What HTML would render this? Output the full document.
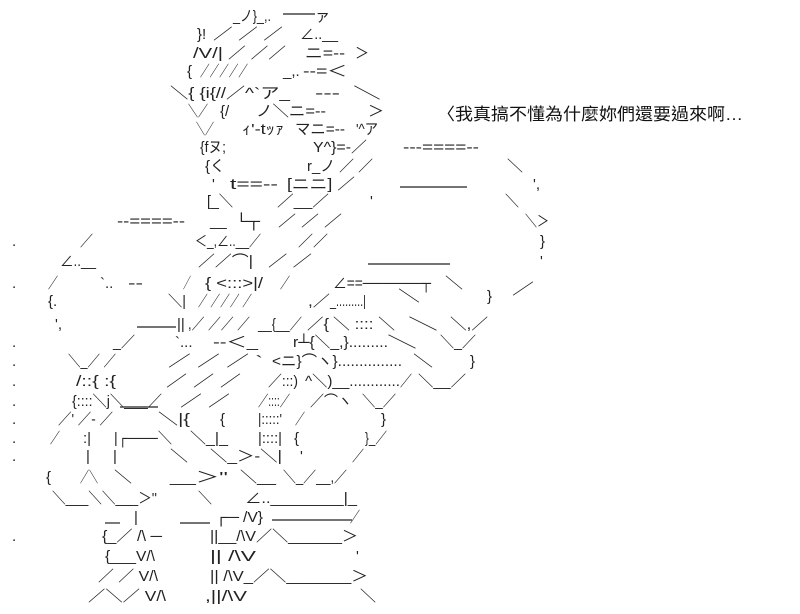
<!DOCTYPE html>
<html><head><meta charset="utf-8"><style>
html,body{margin:0;padding:0;background:#fff;}
svg{display:block}
text{font-family:"Liberation Sans","Noto Sans CJK JP",sans-serif;font-size:15px;fill:#222;}
.c{font-family:"Liberation Sans","Noto Sans CJK TC",sans-serif;font-size:17px;fill:#111;}
line{stroke:#222;stroke-width:1.2}
</style></head><body>
<svg width="800" height="614" viewBox="0 0 800 614" xmlns="http://www.w3.org/2000/svg">
<g>
<!-- row0 -->
<text x="233" y="21" textLength="38" lengthAdjust="spacingAndGlyphs">_ノ}_,.</text>
<line x1="283" y1="14" x2="315" y2="14"/><text x="315" y="21">ァ</text>
<!-- row1 -->
<text x="197" y="39">}!</text>
<text x="213" y="39" textLength="70" lengthAdjust="spacingAndGlyphs">／ ／ ／</text>
<text x="300" y="39" textLength="38" lengthAdjust="spacingAndGlyphs">∠..__</text>
<!-- row2 -->
<text x="193" y="58" textLength="30" lengthAdjust="spacingAndGlyphs">/V/|</text>
<text x="228" y="58" textLength="58" lengthAdjust="spacingAndGlyphs">／ ／／</text>
<text x="305" y="58" textLength="40" lengthAdjust="spacingAndGlyphs">ニ=‐‐</text>
<text x="355" y="58" textLength="14" lengthAdjust="spacingAndGlyphs">＞</text>
<!-- row3 -->
<text x="187" y="76">{</text>
<text x="200" y="76" textLength="48" lengthAdjust="spacingAndGlyphs">／／／／／</text>
<text x="283" y="76">_,.</text>
<text x="303" y="76" textLength="44" lengthAdjust="spacingAndGlyphs">‐‐=＜</text>
<!-- row4 -->
<text x="170" y="98" textLength="56" lengthAdjust="spacingAndGlyphs">＼{ {i{//</text>
<text x="226" y="98" textLength="64" lengthAdjust="spacingAndGlyphs">／^`ア_</text>
<text x="315" y="98" textLength="25" lengthAdjust="spacingAndGlyphs">‐‐‐</text>
<text x="353" y="98" textLength="28" lengthAdjust="spacingAndGlyphs">＼</text>
<!-- row5 -->
<text x="188" y="116" textLength="20" lengthAdjust="spacingAndGlyphs">＼／</text>
<text x="220" y="116">{/</text>
<text x="256" y="116" textLength="70" lengthAdjust="spacingAndGlyphs">ノ＼ニ=‐‐</text>
<text x="368" y="116" textLength="16" lengthAdjust="spacingAndGlyphs">＞</text>
<!-- row6 -->
<text x="196" y="134" textLength="18" lengthAdjust="spacingAndGlyphs">＼／</text>
<text x="242" y="134" textLength="42" lengthAdjust="spacingAndGlyphs">ｨ'‐tｯｧ</text>
<text x="295" y="134" textLength="50" lengthAdjust="spacingAndGlyphs">マニ=‐‐</text>
<text x="356" y="134" textLength="22" lengthAdjust="spacingAndGlyphs">'^ア</text>
<text class="c" x="437" y="120" textLength="306" lengthAdjust="spacingAndGlyphs">〈我真搞不懂為什麼妳們還要過來啊…</text>
<!-- row7 -->
<text x="200" y="152" textLength="26" lengthAdjust="spacingAndGlyphs">{fヌ;</text>
<text x="313" y="152" textLength="54" lengthAdjust="spacingAndGlyphs">Y^}=‐／</text>
<text x="403" y="152" textLength="76" lengthAdjust="spacingAndGlyphs">‐‐‐====‐‐</text>
<!-- row8 -->
<text x="205" y="171">{く</text>
<text x="307" y="171" textLength="66" lengthAdjust="spacingAndGlyphs">r_ノ ／ ／</text>
<text x="507" y="171" textLength="16" lengthAdjust="spacingAndGlyphs">＼</text>
<!-- row9 -->
<text x="212" y="189">'</text>
<text x="230" y="189" textLength="48" lengthAdjust="spacingAndGlyphs">t==‐‐</text>
<text x="287" y="189" textLength="68" lengthAdjust="spacingAndGlyphs">[ニニ] ／</text>
<line x1="400" y1="187" x2="467" y2="187"/>
<text x="533" y="189">',</text>
<!-- row10 -->
<text x="207" y="206" textLength="26" lengthAdjust="spacingAndGlyphs">[_＼</text>
<text x="277" y="206" textLength="52" lengthAdjust="spacingAndGlyphs">／__／</text>
<text x="370" y="206">'</text>
<text x="505" y="206" textLength="14" lengthAdjust="spacingAndGlyphs">＼</text>
<!-- row11 -->
<text x="117" y="226" textLength="68" lengthAdjust="spacingAndGlyphs">‐‐====‐‐</text>
<text x="210" y="226">__</text>
<text x="235" y="226" textLength="25" lengthAdjust="spacingAndGlyphs">└┬</text>
<text x="278" y="226" textLength="64" lengthAdjust="spacingAndGlyphs">／ ／ ／</text>
<text x="525" y="226" textLength="24" lengthAdjust="spacingAndGlyphs">＼＞</text>
<!-- row12 -->
<text x="12" y="246">.</text>
<text x="80" y="246" textLength="13" lengthAdjust="spacingAndGlyphs">／</text>
<text x="195" y="246" textLength="66" lengthAdjust="spacingAndGlyphs">＜_,∠..__／</text>
<text x="298" y="246" textLength="30" lengthAdjust="spacingAndGlyphs">／／</text>
<text x="540" y="246">}</text>
<!-- row13 -->
<text x="60" y="266" textLength="36" lengthAdjust="spacingAndGlyphs">∠..__</text>
<text x="198" y="266" textLength="55" lengthAdjust="spacingAndGlyphs">／／⌒|</text>
<text x="268" y="266" textLength="44" lengthAdjust="spacingAndGlyphs">／ ／</text>
<line x1="368" y1="264" x2="450" y2="264"/>
<text x="540" y="266">'</text>
<!-- row14 -->
<text x="12" y="288">.</text>
<text x="48" y="288" textLength="10" lengthAdjust="spacingAndGlyphs">／</text>
<text x="100" y="288">`..</text>
<text x="128" y="288" textLength="15" lengthAdjust="spacingAndGlyphs">‐‐</text>
<text x="183" y="288" textLength="8" lengthAdjust="spacingAndGlyphs">／</text>
<text x="205" y="288" textLength="58" lengthAdjust="spacingAndGlyphs">{ &lt;:::&gt;|/</text>
<text x="280" y="288" textLength="10" lengthAdjust="spacingAndGlyphs">／</text>
<text x="333" y="288" textLength="98" lengthAdjust="spacingAndGlyphs">∠==──────┬</text>
<text x="398" y="301" textLength="22" lengthAdjust="spacingAndGlyphs">＼</text>
<text x="445" y="288" textLength="18" lengthAdjust="spacingAndGlyphs">＼</text>
<text x="487" y="301">}</text>
<text x="512" y="294" textLength="22" lengthAdjust="spacingAndGlyphs">／</text>
<!-- row15 -->
<text x="48" y="306">{.</text>
<text x="168" y="306" textLength="18" lengthAdjust="spacingAndGlyphs">＼|</text>
<text x="198" y="306" textLength="54" lengthAdjust="spacingAndGlyphs">／ ／／／ ／</text>
<text x="308" y="306" textLength="22" lengthAdjust="spacingAndGlyphs">,／</text>
<text x="330" y="306" textLength="36" lengthAdjust="spacingAndGlyphs">_.........|</text>
<!-- row16 -->
<text x="55" y="329">',</text>
<line x1="137" y1="327" x2="176" y2="327"/>
<text x="177" y="329">||</text>
<text x="188" y="329" textLength="62" lengthAdjust="spacingAndGlyphs">,／ ／／ ／</text>
<text x="258" y="329" textLength="44" lengthAdjust="spacingAndGlyphs">__{__／</text>
<text x="307" y="329" textLength="22" lengthAdjust="spacingAndGlyphs">／{</text>
<text x="333" y="329" textLength="62" lengthAdjust="spacingAndGlyphs">＼ :::: ＼</text>
<text x="408" y="329" textLength="30" lengthAdjust="spacingAndGlyphs">＼</text>
<text x="450" y="329" textLength="38" lengthAdjust="spacingAndGlyphs">＼,／</text>
<!-- row17 -->
<text x="12" y="347">.</text>
<text x="113" y="347" textLength="22" lengthAdjust="spacingAndGlyphs">_／</text>
<text x="175" y="347">`...</text>
<text x="213" y="347" textLength="45" lengthAdjust="spacingAndGlyphs">‐‐＜_</text>
<text x="293" y="347" textLength="95" lengthAdjust="spacingAndGlyphs">r┴{＼_,}.........</text>
<text x="387" y="347" textLength="30" lengthAdjust="spacingAndGlyphs">＼</text>
<text x="440" y="347" textLength="36" lengthAdjust="spacingAndGlyphs">＼_／</text>
<!-- row18 -->
<text x="12" y="366">.</text>
<text x="68" y="366" textLength="48" lengthAdjust="spacingAndGlyphs">＼_／ ／</text>
<text x="168" y="366" textLength="95" lengthAdjust="spacingAndGlyphs">／ ／ ／ `</text>
<text x="272" y="366" textLength="130" lengthAdjust="spacingAndGlyphs">&lt;ニ}⌒ヽ}...............</text>
<text x="413" y="366" textLength="20" lengthAdjust="spacingAndGlyphs">＼</text>
<text x="470" y="366">}</text>
<!-- row19 -->
<text x="12" y="386">.</text>
<text x="76" y="386" textLength="40" lengthAdjust="spacingAndGlyphs">/::{ :{</text>
<text x="166" y="386" textLength="75" lengthAdjust="spacingAndGlyphs">／ ／ ／</text>
<text x="268" y="386" textLength="30" lengthAdjust="spacingAndGlyphs">／:::)</text>
<text x="305" y="386" textLength="95" lengthAdjust="spacingAndGlyphs">^＼)__............</text>
<text x="400" y="386" textLength="12" lengthAdjust="spacingAndGlyphs">／</text>
<text x="418" y="386" textLength="48" lengthAdjust="spacingAndGlyphs">＼__／</text>
<!-- row20 -->
<text x="12" y="406">.</text>
<text x="72" y="406" textLength="90" lengthAdjust="spacingAndGlyphs">{::::＼j＼___／</text>
<text x="180" y="406" textLength="50" lengthAdjust="spacingAndGlyphs">／  ／</text>
<text x="258" y="406" textLength="32" lengthAdjust="spacingAndGlyphs">／::::／</text>
<text x="310" y="406" textLength="42" lengthAdjust="spacingAndGlyphs">／⌒ヽ</text>
<text x="362" y="406" textLength="34" lengthAdjust="spacingAndGlyphs">＼_／</text>
<!-- row21 -->
<text x="12" y="424">.</text>
<text x="58" y="424" textLength="55" lengthAdjust="spacingAndGlyphs">／' ／‐ ／</text>
<line x1="120" y1="407" x2="158" y2="407"/>
<text x="158" y="424" textLength="32" lengthAdjust="spacingAndGlyphs">＼|{</text>
<text x="220" y="424">{</text>
<text x="258" y="424" textLength="24" lengthAdjust="spacingAndGlyphs">|:::::'</text>
<text x="295" y="424" textLength="10" lengthAdjust="spacingAndGlyphs">／</text>
<text x="381" y="424">}</text>
<!-- row22 -->
<text x="12" y="443">.</text>
<text x="50" y="443" textLength="10" lengthAdjust="spacingAndGlyphs">／</text>
<text x="83" y="443">:|</text>
<text x="114" y="443" textLength="58" lengthAdjust="spacingAndGlyphs">|┌───＼</text>
<text x="190" y="443" textLength="38" lengthAdjust="spacingAndGlyphs">＼_|_</text>
<text x="258" y="443" textLength="24" lengthAdjust="spacingAndGlyphs">|::::|</text>
<text x="294" y="443">{</text>
<text x="365" y="443" textLength="22" lengthAdjust="spacingAndGlyphs">}_／</text>
<!-- row23 -->
<text x="12" y="461">.</text>
<text x="86" y="461">|</text>
<text x="113" y="461">|</text>
<text x="170" y="461" textLength="18" lengthAdjust="spacingAndGlyphs">＼</text>
<text x="210" y="461" textLength="72" lengthAdjust="spacingAndGlyphs">＼_＞‐＼|</text>
<text x="300" y="461">'</text>
<text x="352" y="461" textLength="12" lengthAdjust="spacingAndGlyphs">／</text>
<!-- row24 -->
<text x="46" y="482">{</text>
<text x="80" y="482" textLength="18" lengthAdjust="spacingAndGlyphs">／＼</text>
<text x="114" y="482" textLength="18" lengthAdjust="spacingAndGlyphs">＼</text>
<text x="170" y="482" textLength="58" lengthAdjust="spacingAndGlyphs">__＞''</text>
<text x="240" y="482" textLength="36" lengthAdjust="spacingAndGlyphs">＼__</text>
<text x="283" y="482" textLength="64" lengthAdjust="spacingAndGlyphs">＼_／__,／</text>
<!-- row25 -->
<text x="52" y="503" textLength="105" lengthAdjust="spacingAndGlyphs">＼___＼＼___＞''</text>
<text x="198" y="503" textLength="14" lengthAdjust="spacingAndGlyphs">＼</text>
<text x="245" y="503" textLength="112" lengthAdjust="spacingAndGlyphs">∠..________|_</text>
<!-- row26 -->
<text x="134" y="522">|</text>
<text x="215" y="522" textLength="24" lengthAdjust="spacingAndGlyphs">┌─</text>
<text x="243" y="522" textLength="20" lengthAdjust="spacingAndGlyphs">/V}</text>
<line x1="272" y1="520" x2="352" y2="520"/>
<text x="350" y="522" textLength="10" lengthAdjust="spacingAndGlyphs">／</text>
<!-- row27 -->
<text x="12" y="541">.</text>
<text x="102" y="541" textLength="60" lengthAdjust="spacingAndGlyphs">{_／ /\ ─</text>
<line x1="105" y1="523" x2="120" y2="523"/>
<line x1="180" y1="523" x2="210" y2="523"/>
<text x="210" y="541" textLength="148" lengthAdjust="spacingAndGlyphs">||__/\V／＼______＞</text>
<!-- row28 -->
<text x="105" y="561" textLength="50" lengthAdjust="spacingAndGlyphs">{___V/\</text>
<text x="210" y="561" textLength="46" lengthAdjust="spacingAndGlyphs">||  /\V</text>
<text x="356" y="561">'</text>
<!-- row29 -->
<text x="98" y="581" textLength="60" lengthAdjust="spacingAndGlyphs">／ ／ V/\</text>
<text x="210" y="581" textLength="158" lengthAdjust="spacingAndGlyphs">|| /\V_／＼_______＞</text>
<!-- row30 -->
<text x="88" y="601" textLength="78" lengthAdjust="spacingAndGlyphs">／＼／   V/\</text>
<text x="205" y="601" textLength="42" lengthAdjust="spacingAndGlyphs">,||/\V</text>
<text x="360" y="601" textLength="16" lengthAdjust="spacingAndGlyphs">＼</text>
</g>
</svg>
</body></html>
